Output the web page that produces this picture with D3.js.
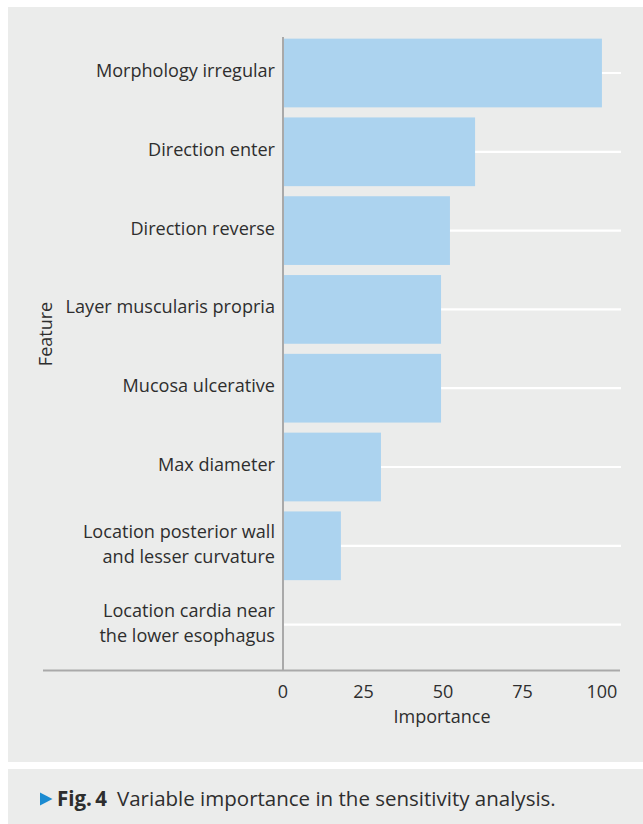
<!DOCTYPE html>
<html>
<head>
<meta charset="utf-8">
<script src="https://cdn.jsdelivr.net/npm/d3@7"></script>
<style>
  html, body { margin: 0; padding: 0; background: #ffffff; }
  svg { display: block; font-family: "Open Sans", sans-serif; }
</style>
</head>
<body>
<svg id="chart" width="643" height="824"></svg>
<script>
// ---- data ----
const categories = [
  ["Morphology irregular"],
  ["Direction enter"],
  ["Direction reverse"],
  ["Layer muscularis propria"],
  ["Mucosa ulcerative"],
  ["Max diameter"],
  ["Location posterior wall", "and lesser curvature"],
  ["Location cardia near", "the lower esophagus"]
];
const importance = [100, 60.1, 52.2, 49.4, 49.4, 30.5, 17.9, 0];
const xTicks = [0, 25, 50, 75, 100];
const xTitle = "Importance";
const yTitle = "Feature";
const captionLabel = "Fig.\u20094";
const captionText = "Variable importance in the sensitivity analysis.";

// ---- layout ----
const svg = d3.select("#chart");
const textColor = "#2e2e2e";
const panelBg = "#ebeceb";
const axisColor = "#a9a9a9";
const barColor = "#acd3ef";
const labelSize = "18.1px";

svg.append("rect").attr("x", 8).attr("y", 7).attr("width", 635).attr("height", 755).attr("fill", panelBg);
svg.append("rect").attr("x", 8).attr("y", 769).attr("width", 635).attr("height", 55).attr("fill", panelBg);

const keys = categories.map((c, i) => i);
const y = d3.scaleBand().domain(keys).range([33.6, 664]).paddingInner(0.128).paddingOuter(0.064);
const x = d3.scaleLinear().domain([0, 106]).range([284, 621]);

const g = svg.append("g");

// gridlines
g.selectAll("line.grid").data(keys).join("line")
  .attr("x1", x(0)).attr("x2", x(106))
  .attr("y1", d => y(d) + y.bandwidth() / 2)
  .attr("y2", d => y(d) + y.bandwidth() / 2)
  .attr("stroke", "#ffffff").attr("stroke-width", 2.2);

// bars
g.selectAll("rect.bar").data(keys).join("rect")
  .attr("x", x(0))
  .attr("y", d => y(d))
  .attr("width", d => x(importance[d]) - x(0))
  .attr("height", y.bandwidth())
  .attr("fill", barColor);

// axes lines
const axisBottomY = 670.5;
svg.append("line").attr("x1", 43).attr("x2", 620).attr("y1", axisBottomY).attr("y2", axisBottomY)
  .attr("stroke", axisColor).attr("stroke-width", 2);
svg.append("line").attr("x1", 283).attr("x2", 283).attr("y1", 37).attr("y2", axisBottomY)
  .attr("stroke", axisColor).attr("stroke-width", 2);

// x axis tick labels via d3 axis
const xAxis = d3.axisBottom(x).tickValues(xTicks).tickSize(0).tickPadding(0).tickFormat(d3.format("d"));
const xg = svg.append("g").attr("transform", `translate(0, 698)`).call(xAxis);
xg.select(".domain").remove();
xg.selectAll("text").attr("dy", 0).attr("y", 0)
  .attr("fill", textColor).style("font-size", "18px").style("font-family", '"Open Sans", sans-serif');
xg.selectAll(".tick").attr("transform", d => `translate(${d === 0 ? 283 : x(d)},0)`);

// y labels
const labels = svg.append("g");
keys.forEach(k => {
  const lines = categories[k];
  const cy = y(k) + y.bandwidth() / 2;
  const t = labels.append("text").attr("text-anchor", "end").attr("fill", textColor).style("font-size", labelSize);
  if (lines.length === 1) {
    t.append("tspan").attr("x", 275).attr("y", cy + 4).text(lines[0]);
  } else {
    t.append("tspan").attr("x", 275).attr("y", cy - 8).text(lines[0]);
    t.append("tspan").attr("x", 275).attr("y", cy + 17).text(lines[1]);
  }
});

// axis titles
svg.append("text").attr("x", 442).attr("y", 723).attr("text-anchor", "middle")
  .attr("fill", textColor).style("font-size", "18px").text(xTitle);
svg.append("text").attr("transform", "translate(52,334) rotate(-90)").attr("text-anchor", "middle")
  .attr("fill", textColor).style("font-size", "18px").text(yTitle);

// caption
svg.append("path").attr("d", "M40,792.5 L52.5,799 L40,805.5 Z").attr("fill", "#1b8bd1");
const cap = svg.append("text").attr("y", 806).attr("fill", textColor).style("font-size", "20.5px");
cap.append("tspan").attr("x", 57).style("font-weight", "bold").text(captionLabel);
cap.append("tspan").attr("x", 117).text(captionText);
</script>
</body>
</html>
